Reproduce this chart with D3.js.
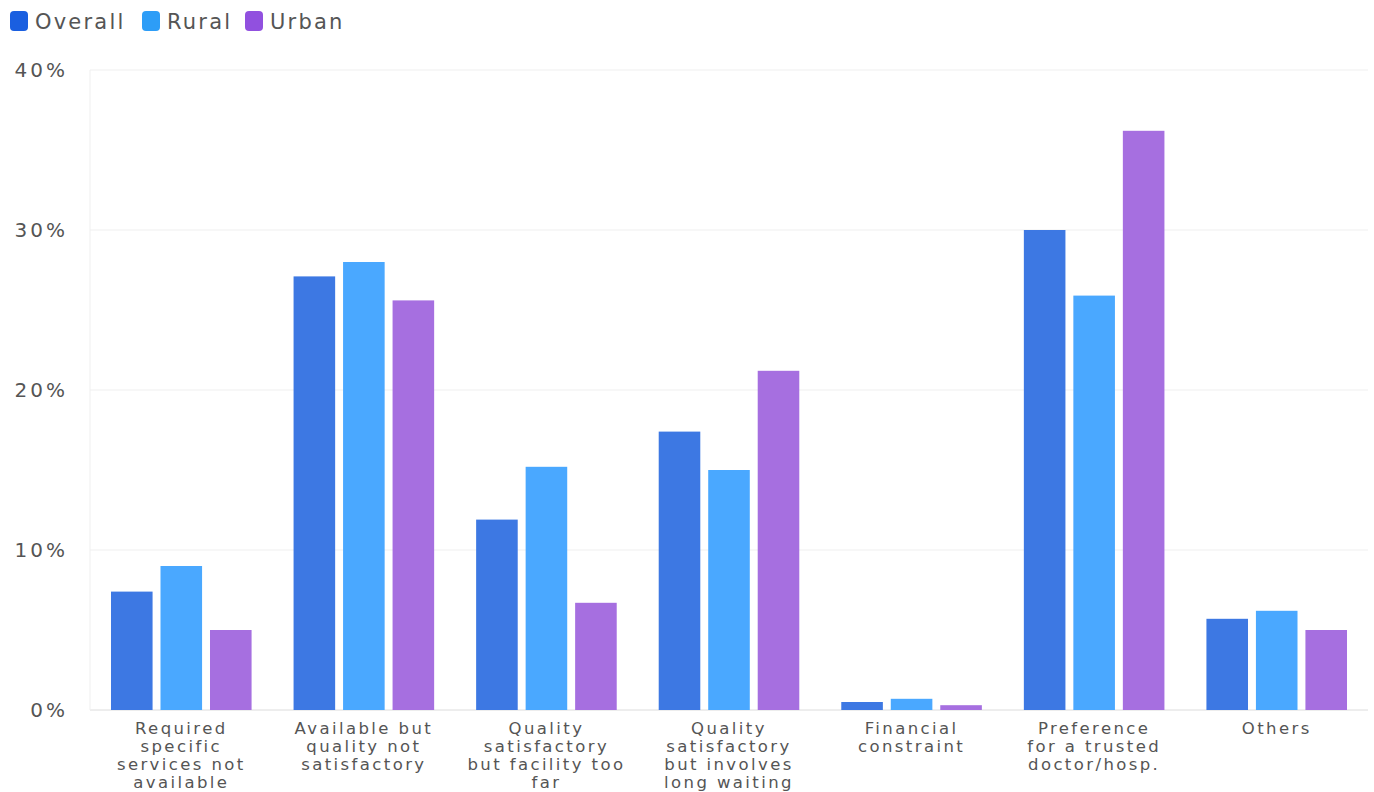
<!DOCTYPE html>
<html>
<head>
<meta charset="utf-8">
<script src="https://cdn.jsdelivr.net/npm/d3@7"></script>
<style>
  body { margin: 0; background: #fff; font-family: "DejaVu Sans", sans-serif; }
  svg text { fill: #555; font-family: "DejaVu Sans", sans-serif; }
</style>
</head>
<body>
<svg id="chart"></svg>
<script>
// Data
const categories = [
  ["Required", "specific", "services not", "available"],
  ["Available but", "quality not", "satisfactory"],
  ["Quality", "satisfactory", "but facility too", "far"],
  ["Quality", "satisfactory", "but involves", "long waiting"],
  ["Financial", "constraint"],
  ["Preference", "for a trusted", "doctor/hosp."],
  ["Others"]
];
const seriesNames = ["Overall", "Rural", "Urban"];
const overall = [7.4, 27.1, 11.9, 17.4, 0.5, 30.0, 5.7];
const rural = [9.0, 28.0, 15.2, 15.0, 0.7, 25.9, 6.2];
const urban = [5.0, 25.6, 6.7, 21.2, 0.3, 36.2, 5.0];
const yTicks = [0, 10, 20, 30, 40];

const barColors = ["#3d78e3", "#4aa8ff", "#a66fe0"];
const legendColors = ["#1a5fe0", "#2d9df7", "#9150df"];

const width = 1374;
const height = 792;
const margin = { top: 70, right: 6, bottom: 82, left: 90 };

const svg = d3.select("#chart")
  .attr("width", width)
  .attr("height", height);

const values = [overall, rural, urban];
const rows = categories.map((c, i) => ({ idx: i, label: c, vals: values.map(s => s[i]) }));

// Scales
const x0 = d3.scaleBand()
  .domain(d3.range(categories.length))
  .range([margin.left, width - margin.right])
  .paddingInner(0.23)
  .paddingOuter(0.115);

const x1 = d3.scaleBand()
  .domain(d3.range(seriesNames.length))
  .range([0, x0.bandwidth()])
  .paddingInner(0.16);

const y = d3.scaleLinear()
  .domain([0, 40])
  .range([height - margin.bottom, margin.top]);

// Grid
svg.append("g")
  .selectAll("line")
  .data(yTicks)
  .join("line")
  .attr("x1", margin.left)
  .attr("x2", width - margin.right)
  .attr("y1", d => y(d))
  .attr("y2", d => y(d))
  .attr("stroke", d => d === 0 ? "#dcdcdc" : "#efefef")
  .attr("stroke-width", 1);

svg.append("line")
  .attr("x1", margin.left).attr("x2", margin.left)
  .attr("y1", margin.top).attr("y2", height - margin.bottom)
  .attr("stroke", "#efefef");

// Y axis
const yAxis = d3.axisLeft(y)
  .tickValues(yTicks)
  .tickFormat(d => d + "%")
  .tickSize(0)
  .tickPadding(22);

svg.append("g")
  .attr("transform", `translate(${margin.left}, 0)`)
  .call(yAxis)
  .call(g => g.select(".domain").remove())
  .selectAll("text")
  .style("font-size", "20px")
  .style("letter-spacing", "3px")
  .style("font-family", "DejaVu Sans, sans-serif")
  .attr("fill", "#555");

// Bars
const groups = svg.append("g")
  .selectAll("g")
  .data(rows)
  .join("g")
  .attr("transform", d => `translate(${x0(d.idx)}, 0)`);

groups.selectAll("rect")
  .data(d => d.vals.map((v, j) => ({ v, j })))
  .join("rect")
  .attr("x", d => x1(d.j))
  .attr("y", d => y(d.v))
  .attr("width", x1.bandwidth())
  .attr("height", d => y(0) - y(d.v))
  .attr("fill", d => barColors[d.j]);

// X labels, one text per line
const lines = rows.flatMap(r => r.label.map((t, k) => ({ idx: r.idx, t, k })));
svg.append("g")
  .selectAll("text")
  .data(lines)
  .join("text")
  .attr("x", d => x0(d.idx) + x0.bandwidth() / 2)
  .attr("y", d => height - margin.bottom + 24 + d.k * 18)
  .attr("text-anchor", "middle")
  .style("font-size", "16.5px")
  .style("letter-spacing", "2.4px")
  .attr("fill", "#555")
  .text(d => d.t);

// Legend
const legend = svg.append("g")
  .attr("transform", "translate(10, 11)");

const legendX = [0, 132, 235];
const item = legend.selectAll("g")
  .data(seriesNames)
  .join("g")
  .attr("transform", (d, i) => `translate(${legendX[i]}, 0)`);

item.append("rect")
  .attr("width", 18)
  .attr("height", 20)
  .attr("rx", 4)
  .attr("fill", (d, i) => legendColors[i]);

item.append("text")
  .attr("x", 25)
  .attr("y", 18)
  .style("font-size", "21px")
  .style("letter-spacing", "2.2px")
  .attr("fill", "#555")
  .text(d => d);
</script>
</body>
</html>
